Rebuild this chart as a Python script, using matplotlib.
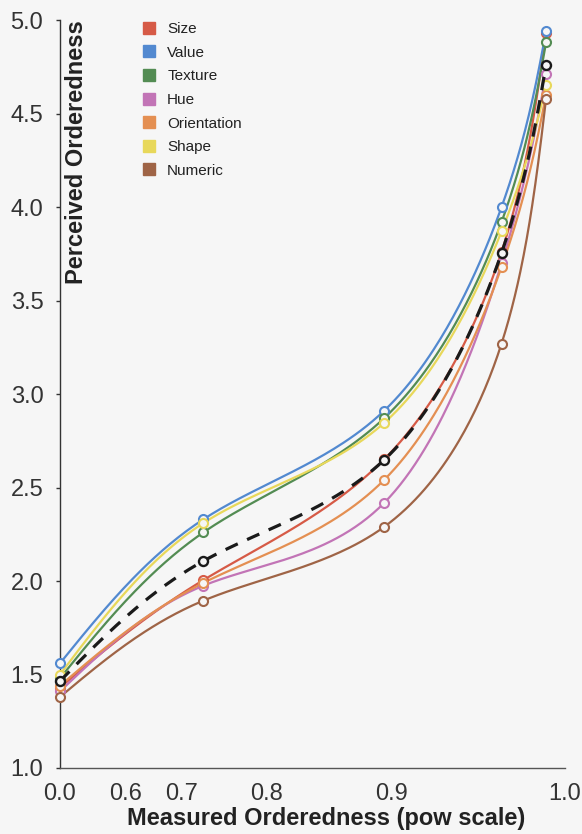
import numpy as np
import matplotlib
matplotlib.use("Agg")
import matplotlib.pyplot as plt
from matplotlib.lines import Line2D

# ---- data -------------------------------------------------------------
measured = [0.0, 0.73, 0.895, 0.967, 0.9905]

size = [1.43, 2.005, 2.65, 3.76, 4.93]
value = [1.56, 2.33, 2.91, 4.00, 4.94]
texture = [1.48, 2.26, 2.87, 3.92, 4.88]
hue = [1.41, 1.975, 2.417, 3.70, 4.71]
orientation = [1.44, 1.99, 2.54, 3.68, 4.60]
shape = [1.50, 2.31, 2.845, 3.87, 4.65]
numeric = [1.38, 1.895, 2.289, 3.27, 4.58]
mean_all = [1.465, 2.107, 2.647, 3.754, 4.76]

series_names = ["Size", "Value", "Texture", "Hue", "Orientation", "Shape", "Numeric"]
series_values = [size, value, texture, hue, orientation, shape, numeric]
series_colors = ["#d65a46", "#5289d0", "#538c53", "#c274b6",
                 "#e48f52", "#e8d85a", "#9f6446"]

x_ticks = [0.0, 0.6, 0.7, 0.8, 0.9, 1.0]
x_ticklabels = ["0.0", "0.6", "0.7", "0.8", "0.9", "1.0"]
y_ticks = [1.0, 1.5, 2.0, 2.5, 3.0, 3.5, 4.0, 4.5, 5.0]
y_ticklabels = ["1.0", "1.5", "2.0", "2.5", "3.0", "3.5", "4.0", "4.5", "5.0"]

EXP = 4.0  # power scale exponent


def pow_fwd(x):
    x = np.asarray(x, float)
    return np.sign(x) * np.abs(x) ** EXP


def pow_inv(t):
    t = np.asarray(t, float)
    return np.sign(t) * np.abs(t) ** (1.0 / EXP)


def natural_controls(v):
    """First/second Bezier control points of a natural cubic spline."""
    v = np.asarray(v, float)
    n = len(v) - 1
    a = np.zeros(n); b = np.zeros(n); r = np.zeros(n)
    a[0], b[0], r[0] = 0, 2, v[0] + 2 * v[1]
    for i in range(1, n - 1):
        a[i], b[i], r[i] = 1, 4, 4 * v[i] + 2 * v[i + 1]
    a[n - 1], b[n - 1], r[n - 1] = 2, 7, 8 * v[n - 1] + v[n]
    for i in range(1, n):
        m = a[i] / b[i - 1]
        b[i] -= m
        r[i] -= m * r[i - 1]
    A = np.zeros(n)
    A[n - 1] = r[n - 1] / b[n - 1]
    for i in range(n - 2, -1, -1):
        A[i] = (r[i] - A[i + 1]) / b[i]
    B = np.zeros(n)
    B[n - 1] = (v[n] + A[n - 1]) / 2
    for i in range(n - 1):
        B[i] = 2 * v[i + 1] - A[i + 1]
    return A, B


def natural_curve(xs, ys, samples=60):
    """Smooth curve through the points, built in the scaled x space."""
    tx = pow_fwd(xs)
    ty = np.asarray(ys, float)
    Ax, Bx = natural_controls(tx)
    Ay, By = natural_controls(ty)
    u = np.linspace(0, 1, samples)[:, None]
    px, py = [], []
    for i in range(len(tx) - 1):
        bx = ((1 - u) ** 3 * tx[i] + 3 * (1 - u) ** 2 * u * Ax[i]
              + 3 * (1 - u) * u ** 2 * Bx[i] + u ** 3 * tx[i + 1])
        by = ((1 - u) ** 3 * ty[i] + 3 * (1 - u) ** 2 * u * Ay[i]
              + 3 * (1 - u) * u ** 2 * By[i] + u ** 3 * ty[i + 1])
        px.append(bx.ravel()); py.append(by.ravel())
    return pow_inv(np.concatenate(px)), np.concatenate(py)


# ---- figure -----------------------------------------------------------
BG = "#f6f6f6"
W, H = 582, 834
plt.rcParams["font.family"] = ["Liberation Sans", "DejaVu Sans"]

fig = plt.figure(figsize=(W / 100, H / 100), dpi=100, facecolor=BG)
ax = fig.add_axes([60 / W, (H - 768) / H, (565 - 60) / W, (768 - 20) / H])
ax.set_facecolor(BG)
ax.set_xscale("function", functions=(pow_fwd, pow_inv))
ax.set_xlim(0.0, 1.0)
ax.set_ylim(1.0, 5.0)

for vals, col in zip(series_values, series_colors):
    cx, cy = natural_curve(measured, vals)
    ax.plot(cx, cy, color=col, lw=1.6, solid_capstyle="round", zorder=3)
    ax.plot(measured, vals, ls="none", marker="o", ms=6.5, mfc=BG,
            mec=col, mew=1.5, zorder=4, clip_on=False)

cx, cy = natural_curve(measured, mean_all)
ax.plot(cx, cy, color="#1a1a1a", lw=2.3, ls=(0, (4.2, 3.2)), zorder=5)
ax.plot(measured, mean_all, ls="none", marker="o", ms=6.5, mfc=BG,
        mec="#1a1a1a", mew=1.7, zorder=6, clip_on=False)

# axes styling
for side in ("top", "right"):
    ax.spines[side].set_visible(False)
ax.spines["left"].set_color("#333333")
ax.spines["bottom"].set_color("#555555")
ax.spines["left"].set_linewidth(1.0)
ax.spines["bottom"].set_linewidth(1.0)

ax.set_xticks(x_ticks)
ax.set_xticklabels(x_ticklabels)
ax.set_yticks(y_ticks)
ax.set_yticklabels(y_ticklabels)
ax.minorticks_off()
ax.tick_params(axis="x", length=0, pad=10.5, labelsize=17, labelcolor="#333333")
ax.tick_params(axis="y", length=3, width=1, color="#333333", pad=9,
               labelsize=17, labelcolor="#333333")

fig.text(65 / W, 1 - 20 / H, "Perceived Orderedness", rotation=90,
         ha="left", va="top", fontsize=17, fontweight="bold", color="#222222")
fig.text(326 / W, 1 - 819 / H, "Measured Orderedness (pow scale)",
         ha="center", va="center", fontsize=17, fontweight="bold",
         color="#222222")

handles = [Line2D([], [], ls="none", marker="s", ms=8, mfc=c, mec=c)
           for c in series_colors]
leg = ax.legend(handles, series_names, loc="upper left",
                bbox_to_anchor=(143 / W, 1 - 22 / H),
                bbox_transform=fig.transFigure, frameon=False,
                fontsize=11, handlelength=0.8, handletextpad=0.78,
                labelspacing=0.63, borderpad=0, borderaxespad=0)
for t in leg.get_texts():
    t.set_color("#222222")

fig.savefig("out.png", dpi=100, facecolor=BG)
